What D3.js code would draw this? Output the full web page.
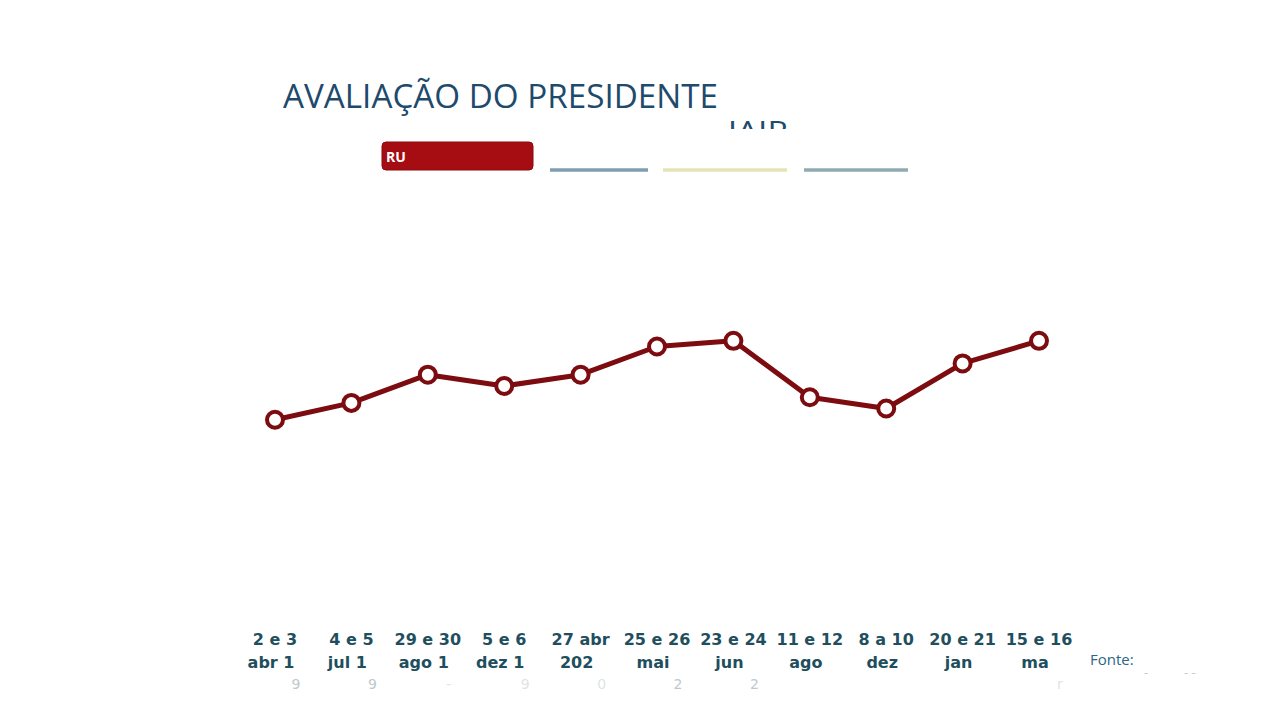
<!DOCTYPE html>
<html>
<head>
<meta charset="utf-8">
<script src="https://cdn.jsdelivr.net/npm/d3@7"></script>
<style>
  body { margin: 0; background: #fff; }
  svg { display: block; }
</style>
</head>
<body>
<div id="chart"></div>
<script>
// dados (ruim/péssimo, %)
const datesTop = ["2 e 3", "4 e 5", "29 e 30", "5 e 6", "27 abr", "25 e 26", "23 e 24", "11 e 12", "8 a 10", "20 e 21", "15 e 16"];
const datesBottom = ["abr 1", "jul 1", "ago 1", "dez 1", "202", "mai", "jun", "ago", "dez", "jan", "ma"];
const fadedBits = ["9", "9", "-", "9", "0", "2", "2", "", "", "", "r"];
const ruim = [30, 33, 38, 36, 38, 43, 44, 34, 32, 40, 44];

const legendLines = [
    { x1: 550, x2: 648, color: "#7f9fb0" },
    { x1: 663, x2: 787, color: "#e4e4b8" },
    { x1: 804, x2: 908, color: "#8eaab3" }
];

function createChart() {
    const w = 1280;
    const h = 720;
    const red = "#7c0c10";

    const svg = d3.select("#chart")
        .append("svg")
        .attr("width", w)
        .attr("height", h);

    /* SCALES */
    const xScale = d3.scalePoint()
        .domain(d3.range(ruim.length))
        .range([275, 1039]);

    const yScale = d3.scaleLinear()
        .domain([0, 50])
        .range([589, 307]);

    /* TITLE */
    svg.append("text")
        .attr("x", 283)
        .attr("y", 108)
        .attr("textLength", 435)
        .attr("lengthAdjust", "spacingAndGlyphs")
        .style("font-family", "'Open Sans', sans-serif")
        .style("font-size", "33px")
        .style("fill", "#1e4a6c")
        .text("AVALIAÇÃO DO PRESIDENTE");

    // nome entrando por baixo (cortado)
    svg.append("clipPath")
        .attr("id", "nameClip")
        .append("rect")
        .attr("x", 700).attr("y", 110)
        .attr("width", 120).attr("height", 19);

    svg.append("text")
        .attr("clip-path", "url(#nameClip)")
        .attr("x", 728)
        .attr("y", 141)
        .attr("textLength", 60)
        .attr("lengthAdjust", "spacingAndGlyphs")
        .style("font-family", "'Open Sans', sans-serif")
        .style("font-size", "28px")
        .style("fill", "#1e4a6c")
        .text("JAIR");

    /* LEGEND */
    svg.append("rect")
        .attr("x", 382).attr("y", 142)
        .attr("width", 151).attr("height", 28)
        .attr("rx", 4)
        .style("fill", "#a60d12")
        .style("stroke", "#8a0a0e")
        .style("stroke-width", 1);

    svg.append("text")
        .attr("x", 386)
        .attr("y", 162)
        .style("font-family", "'Open Sans', sans-serif")
        .style("font-weight", "bold")
        .style("font-size", "14px")
        .style("fill", "#fff")
        .text("RU");

    svg.selectAll(".leg")
        .data(legendLines)
        .enter()
        .append("line")
        .attr("class", "leg")
        .attr("x1", d => d.x1)
        .attr("x2", d => d.x2)
        .attr("y1", 170)
        .attr("y2", 170)
        .style("stroke", d => d.color)
        .style("stroke-width", 3.5);

    /* LINE */
    const line = d3.line()
        .x((d, i) => xScale(i))
        .y(d => yScale(d));

    svg.append("path")
        .datum(ruim)
        .attr("d", line)
        .style("fill", "none")
        .style("stroke", red)
        .style("stroke-width", 5)
        .style("stroke-linejoin", "round");

    svg.selectAll(".dot")
        .data(ruim)
        .enter()
        .append("circle")
        .attr("class", "dot")
        .attr("cx", (d, i) => xScale(i))
        .attr("cy", d => yScale(d))
        .attr("r", 8)
        .style("fill", "#fff")
        .style("stroke", red)
        .style("stroke-width", 4);

    /* X LABELS */
    const labelStyle = sel => sel
        .attr("text-anchor", "middle")
        .style("font-family", "'DejaVu Sans', sans-serif")
        .style("font-weight", "bold")
        .style("font-size", "16px")
        .style("fill", "#1f4f5e");

    svg.selectAll(".lblTop")
        .data(datesTop)
        .enter()
        .append("text")
        .attr("class", "lblTop")
        .attr("x", (d, i) => xScale(i))
        .attr("y", 645)
        .call(labelStyle)
        .text(d => d);

    svg.selectAll(".lblBot")
        .data(datesBottom)
        .enter()
        .append("text")
        .attr("class", "lblBot")
        .attr("x", (d, i) => xScale(i) - 4)
        .attr("y", 668)
        .call(labelStyle)
        .text(d => d);

    // restos do ano apagando-se
    svg.selectAll(".lblFaded")
        .data(fadedBits)
        .enter()
        .append("text")
        .attr("class", "lblFaded")
        .attr("x", (d, i) => xScale(i) + 21)
        .attr("y", 689)
        .attr("text-anchor", "middle")
        .style("font-family", "'DejaVu Sans', sans-serif")
        .style("font-size", "14px")
        .style("fill", "#b8c4c8")
        .style("opacity", (d, i) => i < 2 || i === 5 || i === 6 ? 0.9 : 0.45)
        .text(d => d);

    /* SOURCE */
    svg.append("text")
        .attr("x", 1090)
        .attr("y", 665)
        .style("font-family", "'Open Sans', sans-serif")
        .style("font-size", "15px")
        .style("fill", "#2c6684")
        .text("Fonte:");

    svg.append("text")
        .attr("x", 1144)
        .attr("y", 677)
        .style("font-family", "'Open Sans', sans-serif")
        .style("font-size", "13px")
        .style("fill", "#c2ccd0")
        .text("-");

    svg.append("text")
        .attr("x", 1184)
        .attr("y", 677)
        .style("font-family", "'Open Sans', sans-serif")
        .style("font-size", "13px")
        .style("fill", "#c2ccd0")
        .text("- -");
}

createChart();
</script>
</body>
</html>
